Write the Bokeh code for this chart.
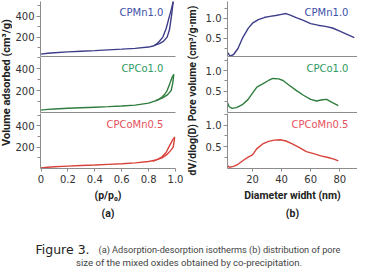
import math
from bokeh.plotting import figure
from bokeh.layouts import row, column
from bokeh.models import Range1d, FixedTicker, Label, Title
from bokeh.embed import file_html
from bokeh.resources import INLINE

# ---------------- data ----------------
# (a) adsorption-desorption isotherms, volume adsorbed (cm3/g) vs p/p0
mn_p_ads = [0.0, 0.05, 0.1, 0.2, 0.3, 0.4, 0.5, 0.6, 0.7, 0.8, 0.84, 0.88, 0.91, 0.938, 0.955, 0.97, 0.983]
mn_v_ads = [38, 46, 51, 59, 65, 71, 78, 85, 93, 105, 118, 138, 160, 200, 270, 400, 540]
mn_p_des = [0.983, 0.97, 0.955, 0.93, 0.906, 0.88, 0.86, 0.84]
mn_v_des = [540, 470, 400, 280, 200, 160, 135, 118]

co_p_ads = [0.0, 0.05, 0.1, 0.2, 0.3, 0.4, 0.5, 0.6, 0.7, 0.8, 0.85, 0.9, 0.94, 0.968, 0.98, 0.987]
co_v_ads = [22, 28, 32, 38, 43, 48, 53, 59, 67, 85, 105, 130, 160, 200, 270, 347]
co_p_des = [0.987, 0.975, 0.96, 0.938, 0.92, 0.9, 0.875, 0.85]
co_v_des = [347, 320, 270, 200, 165, 140, 120, 105]

cm_p_ads = [0.0, 0.05, 0.1, 0.2, 0.3, 0.4, 0.5, 0.6, 0.7, 0.8, 0.85, 0.9, 0.94, 0.965, 0.983, 0.995]
cm_v_ads = [6, 12, 16, 22, 28, 33, 39, 45, 53, 65, 78, 100, 135, 170, 200, 295]
cm_p_des = [0.995, 0.98, 0.965, 0.95, 0.93, 0.9, 0.87, 0.83]
cm_v_des = [295, 270, 235, 200, 150, 110, 88, 68]

# (b) pore size distribution, dV/dlog(D) vs diameter (nm)
mn_d = [2.5, 4.5, 7, 10, 13, 17, 20, 24, 28, 32, 36, 40, 43, 46, 50, 55, 60, 65, 70, 75, 80, 85, 90]
mn_dv = [0.17, 0.06, 0.10, 0.25, 0.50, 0.75, 0.88, 0.97, 1.02, 1.05, 1.07, 1.10, 1.12, 1.08, 1.02, 0.95, 0.87, 0.83, 0.80, 0.76, 0.68, 0.60, 0.52]

co_d = [2.5, 4, 6, 9, 13, 17, 20, 23, 27, 31, 34, 38, 41, 45, 50, 55, 60, 64, 68, 71, 75, 79]
co_dv = [0.24, 0.12, 0.08, 0.10, 0.17, 0.30, 0.45, 0.60, 0.68, 0.76, 0.81, 0.80, 0.76, 0.65, 0.52, 0.40, 0.30, 0.26, 0.29, 0.30, 0.22, 0.15]

cm_d = [2.5, 4, 7, 10, 14, 17, 20, 23, 27, 31, 35, 39, 43, 47, 52, 57, 62, 67, 72, 76, 79]
cm_dv = [0.06, 0.01, 0.03, 0.08, 0.18, 0.25, 0.30, 0.45, 0.56, 0.62, 0.65, 0.66, 0.63, 0.57, 0.48, 0.38, 0.33, 0.28, 0.24, 0.20, 0.16]

sample_names = ["CPMn1.0", "CPCo1.0", "CPCoMn0.5"]

p_ticks = [0, 0.2, 0.4, 0.6, 0.8, 1.0]
p_tick_labels = ["0", "0.2", "0.4", "0.6", "0.8", "1.0"]
d_ticks = [20, 40, 60, 80]
vol_ticks = [200, 400]
vol_minor = [100, 300, 500]
pv_ticks = [0.5, 1.0]
pv_tick_labels = ["0.5", "1.0"]
pv_minor = [0.25, 0.75, 1.25]

caption_head = "Figure 3."
caption_line1 = "(a) Adsorption-desorption isotherms (b) distribution of pore"
caption_line2 = "size of the mixed oxides obtained by co-precipitation."

# ---------------- style ----------------
AX = "#8c8c8c"
TXT = "#333333"
TICK_FONT = "DejaVu Sans"
LAB_FONT = "Roboto"
line_cols = ["#3d3d8a", "#2f7d3e", "#d8423a"]
text_cols = ["#4050a6", "#2f9a62", "#e6505c"]


def base_fig(**kw):
    p = figure(output_backend="svg", toolbar_location=None, **kw)
    p.outline_line_color = None
    p.grid.visible = False
    p.background_fill_color = "white"
    p.border_fill_color = "white"
    return p


def panel(xr, yr, yt, ym, ylabels, fw, mbl, mbr, top, bottom):
    p = base_fig(frame_width=fw, frame_height=55, x_range=xr, y_range=yr,
                 min_border_left=mbl, min_border_right=mbr,
                 min_border_top=1 if top else 0, min_border_bottom=1)
    ya = p.yaxis[0]
    ya.ticker = FixedTicker(ticks=yt, minor_ticks=ym)
    if ylabels is not None:
        ya.major_label_overrides = dict(zip(yt, ylabels))
    ya.axis_line_color = AX
    ya.major_tick_line_color = AX
    ya.minor_tick_line_color = AX
    ya.major_tick_out = 4
    ya.major_tick_in = 0
    ya.minor_tick_out = 3
    ya.minor_tick_in = 0
    ya.major_label_standoff = 2
    ya.major_label_text_font = TICK_FONT
    ya.major_label_text_font_size = "10px"
    ya.major_label_text_color = TXT
    xa = p.xaxis[0]
    xa.axis_line_color = AX
    if not bottom:
        xa.ticker = FixedTicker(ticks=[])
        xa.major_tick_out = 0
        xa.major_tick_in = 0
        xa.minor_tick_out = 0
        xa.minor_tick_in = 0
        xa.major_label_standoff = 0
    else:
        xa.major_tick_line_color = AX
        xa.major_tick_out = 3
        xa.major_tick_in = 0
        xa.minor_tick_out = 0
        xa.minor_tick_in = 0
        xa.major_label_standoff = 3
        xa.major_label_text_font = TICK_FONT
        xa.major_label_text_font_size = "10px"
        xa.major_label_text_color = TXT
        xa.axis_label_text_font = LAB_FONT
        xa.axis_label_text_font_style = "bold"
        xa.axis_label_text_font_size = "10.5px"
        xa.axis_label_text_color = "#222222"
        xa.axis_label_standoff = 3
    return p


def name_label(p, x, y, text, col):
    p.add_layout(Label(x=x, y=y, text=text, text_align="right", text_baseline="middle",
                       text_font=TICK_FONT, text_font_size="10px", text_color=col))


# ---------------- left: isotherms ----------------
left_ranges = [(15, 540), (0, 500), (0, 515)]
left_data = [(mn_p_ads, mn_v_ads, mn_p_des, mn_v_des),
             (co_p_ads, co_v_ads, co_p_des, co_v_des),
             (cm_p_ads, cm_v_ads, cm_p_des, cm_v_des)]
left_figs = []
for i in range(3):
    lo, hi = left_ranges[i]
    p = panel(Range1d(-0.004, 1.0), Range1d(lo, hi), vol_ticks, vol_minor, None,
              135, 26, 9, i == 0, i == 2)
    pa, va, pd, vd = left_data[i]
    p.line(pa, va, line_color=line_cols[i], line_width=1.4)
    p.line(pd, vd, line_color=line_cols[i], line_width=1.4)
    name_label(p, 0.91, hi - 10.5 * (hi - lo) / 55, sample_names[i], text_cols[i])
    left_figs.append(p)
lb = left_figs[2]
lb.xaxis[0].ticker = FixedTicker(ticks=p_ticks)
lb.xaxis[0].major_label_overrides = dict(zip(p_ticks, p_tick_labels))
lb.xaxis[0].axis_label = "(p/p\u2080)"
lb.add_layout(Title(text="(a)", align="center", text_font=LAB_FONT, text_font_style="bold",
                    text_font_size="10.5px", text_color="#222222", standoff=0), "below")

# ---------------- right: pore size distribution ----------------
right_ranges = [(0.05, 1.42), (-0.02, 1.32), (-0.02, 1.28)]
right_data = [(mn_d, mn_dv), (co_d, co_dv), (cm_d, cm_dv)]
right_figs = []
for i in range(3):
    lo, hi = right_ranges[i]
    p = panel(Range1d(2.8, 92.2), Range1d(lo, hi), pv_ticks, pv_minor, pv_tick_labels,
              130, 23, 0, i == 0, i == 2)
    d, dv = right_data[i]
    p.line(d, dv, line_color=line_cols[i], line_width=1.4)
    name_label(p, 86, hi - 10.5 * (hi - lo) / 55, sample_names[i], text_cols[i])
    right_figs.append(p)
rb = right_figs[2]
rb.xaxis[0].ticker = FixedTicker(ticks=d_ticks)
rb.xaxis[0].axis_label = "Diameter widht (nm)"
rb.add_layout(Title(text="(b)", align="center", text_font=LAB_FONT, text_font_style="bold",
                    text_font_size="10.5px", text_color="#222222", standoff=0), "below")

# ---------------- vertical axis titles ----------------
def vlabel(width, height, xc, yc, text, size):
    p = base_fig(width=width, height=height, x_range=Range1d(0, width), y_range=Range1d(0, height),
                 x_axis_type=None, y_axis_type=None, min_border=0)
    p.add_layout(Label(x=xc, y=yc, text=text, angle=math.pi / 2, text_align="center",
                       text_baseline="middle", text_font=LAB_FONT, text_font_style="bold",
                       text_font_size=size, text_color="#222222"))
    return p

lab_left = vlabel(12, 200, 6, 118, "Volume adsorbed (cm\u00b3/g)", "11px")
lab_right = vlabel(18, 200, 8, 110, "dV/dlog(D) Pore volume (cm\u00b3/g\u00b7nm)", "10.5px")

# ---------------- caption ----------------
cap = base_fig(width=353, height=49, x_range=Range1d(0, 353), y_range=Range1d(0, 49),
               x_axis_type=None, y_axis_type=None, min_border=0)
cap.add_layout(Label(x=35, y=19, text=caption_head, text_align="left", text_baseline="middle",
                     text_font=TICK_FONT, text_font_size="12.5px", text_color="#222222"))
cap.add_layout(Label(x=98, y=19, text=caption_line1, text_align="left", text_baseline="middle",
                     text_font=LAB_FONT, text_font_size="9.2px", text_color="#444444"))
cap.add_layout(Label(x=188.5, y=6, text=caption_line2, text_align="center", text_baseline="middle",
                     text_font=LAB_FONT, text_font_size="9.6px", text_color="#444444"))

layout = column(row(lab_left, column(*left_figs), lab_right, column(*right_figs)), cap)

open("out.html", "w").write(file_html(layout, INLINE))
